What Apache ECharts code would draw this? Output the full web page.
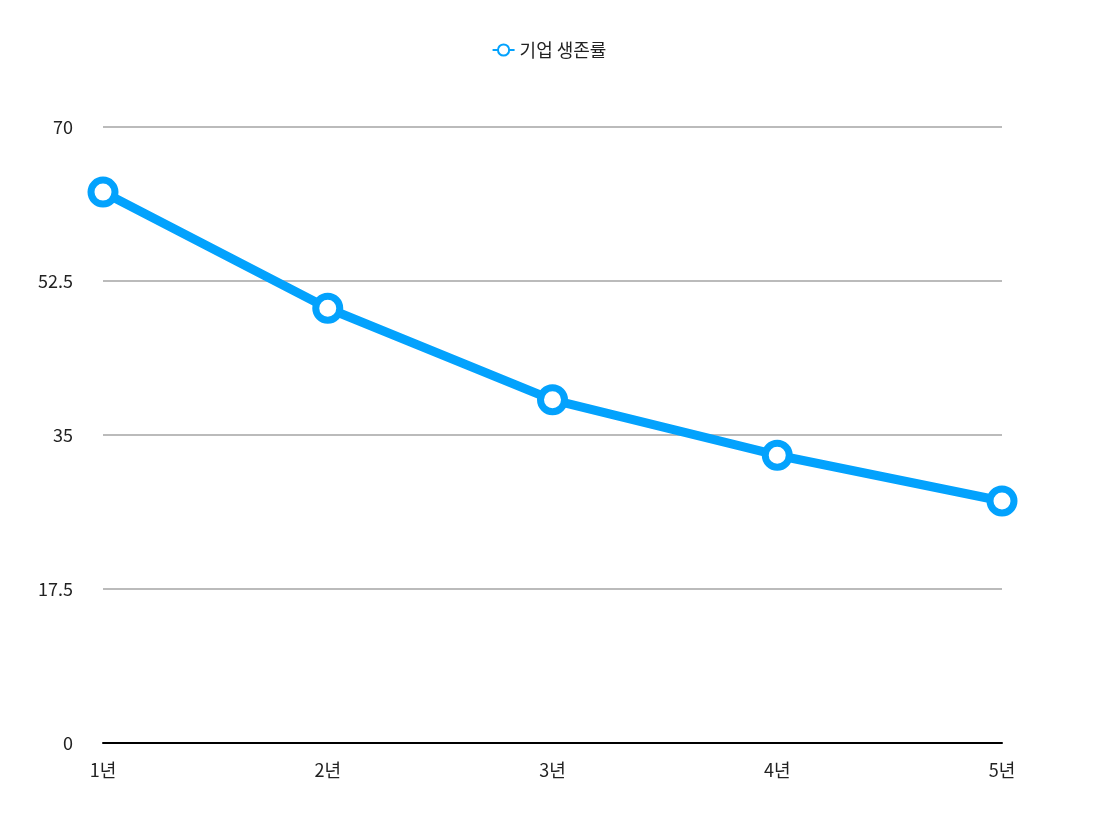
<!DOCTYPE html>
<html><head><meta charset="utf-8">
<script src="https://cdn.jsdelivr.net/npm/echarts@6/dist/echarts.min.js"></script>
<style>html,body{margin:0;padding:0;background:#fff}#c{width:1098px;height:830px}</style>
</head><body><div id="c"></div>
<script>
const categories = ['1년','2년','3년','4년','5년'];
const survival = [62.6, 49.4, 39.0, 32.7, 27.5];
const yTicks = [0, 17.5, 35, 52.5, 70];
const font = '"Noto Sans CJK KR", "Liberation Sans", sans-serif';
const chart = echarts.init(document.getElementById('c'));
chart.setOption({
  animation: false,
  legend: {
    top: 36, left: 'center', itemWidth: 22, itemHeight: 14,
    textStyle: {fontFamily: font, fontSize: 18, color: '#222'},
    data: ['기업 생존률']
  },
  grid: {left: 103, right: 96, top: 127, bottom: 87},
  xAxis: {
    type: 'category', data: categories, boundaryGap: false,
    axisLine: {lineStyle: {color: '#000', width: 2}},
    axisTick: {show: false},
    axisLabel: {fontFamily: font, fontSize: 18, color: '#222', margin: 18}
  },
  yAxis: {
    type: 'value', min: 0, max: 70, interval: 17.5,
    axisLine: {show: false}, axisTick: {show: false},
    splitLine: {lineStyle: {color: '#bbb', width: 2}},
    axisLabel: {fontFamily: font, fontSize: 18, color: '#222', margin: 30,
      formatter: v => yTicks.includes(v) ? String(v) : ''}
  },
  series: [{
    name: '기업 생존률', type: 'line', data: survival,
    symbol: 'circle', symbolSize: 24,
    lineStyle: {color: '#03a2fd', width: 9},
    itemStyle: {color: '#fff', borderColor: '#03a2fd', borderWidth: 7}
  }]
});
</script></body></html>
